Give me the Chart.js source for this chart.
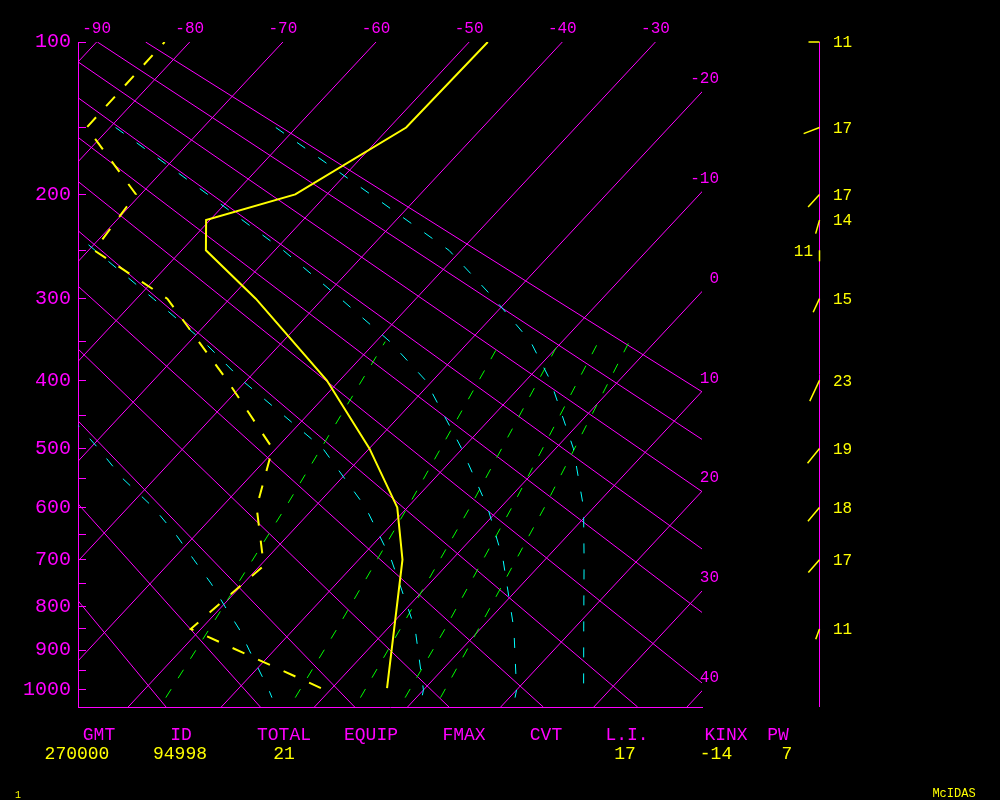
<!DOCTYPE html>
<html><head><meta charset="utf-8">
<style>html,body{margin:0;padding:0;background:#000;}canvas{display:block;}</style>
<script src="https://cdn.jsdelivr.net/npm/chart.js@4/dist/chart.umd.min.js"></script>
</head><body>
<canvas id="c" width="1000" height="800"></canvas>
<script>
// ---------------- data ----------------
const isotherms = [-90,-80,-70,-60,-50,-40,-30,-20,-10,0,10,20,30,40];
const topTempLabels = [-90,-80,-70,-60,-50,-40,-30];
const rightTempLabels = [-20,-10,0,10,20,30,40];
const pressureTicks = [100,150,200,250,300,350,400,450,500,550,600,650,700,750,800,850,900,950,1000];
const pressureLabels = [100,200,300,400,500,600,700,800,900,1000];
const dryAdiabatsK = [254,264,274,284,294,304,314,324,334,344,354,364];

const mixP  = [1020, 850, 600, 350];
const mix1T = [-16.9, -19.1, -23.1, -29.0];
const mix3T = [-3.0, -5.4, -10.0, -16.6];
const mix5T = [4.0, 1.4, -3.3, -10.3];
const mix7T = [8.8, 6.2, 1.2, -6.1];
const mix9T = [12.6, 9.8, 4.7, -2.8];

const moistB_P = [400, 500, 550, 600, 650, 700, 750, 800, 850, 900, 1000, 1020];
const moistB_T = [-62.4, -49.1, -43.4, -37.3, -32.2, -27.7, -23.4, -19.6, -15.9, -12.7, -6.6, -5.5];
const moistA_P = [200, 250, 300, 350, 400, 500, 600, 700, 850, 1000, 1020];
const moistA_T = [-82.0, -69.3, -58.2, -48.5, -40.5, -25.0, -14.5, -6.5, 3.0, 10.0, 10.6];
const moistD_P = [150, 200, 250, 300, 350, 400, 500, 600, 700, 850, 1000, 1020];
const moistD_T = [-79.4, -62.8, -49.1, -38.1, -28.5, -20.8, -10.1, -1.4, 5.5, 13.6, 20.0, 20.6];
const moistC_P = [150, 200, 250, 300, 350, 400, 500, 600, 700, 850, 1000, 1020];
const moistC_T = [-62.2, -45.3, -31.3, -21.6, -13.4, -7.4, 1.9, 8.9, 14.2, 21.1, 27.2, 28.0];

const tempP = [995, 700, 600, 500, 400, 300, 250, 222, 200, 150, 100];
const tempT = [5.9, -5.3, -11.1, -20.0, -31.4, -47.2, -57.4, -60.4, -53.4, -48.2, -48.0];
const dewP  = [995, 850, 712, 600, 500, 400, 300, 250, 200, 150, 100];
const dewT  = [-1.2, -21.1, -19.6, -26.2, -30.4, -42.1, -56.7, -69.4, -70.5, -82.5, -82.7];

const windP   = [100, 150, 200, 222, 250, 300, 400, 500, 600, 700, 850];
const windDir = [270, 249, 222, 196, 180, 205, 205, 219, 220, 221, 200];
const windSpd = [11, 17, 17, 14, 11, 15, 23, 19, 18, 17, 11];

const tableHeaders = ['GMT','ID','TOTAL','EQUIP','FMAX','CVT','L.I.','KINX','PW'];
const tableValues  = ['270000','94998','21','','','','17','-14','7'];

// ---------------- layout / style ----------------
const MAG='#ff00ff', YEL='#ffff00', CYA='#00ffff', GRN='#00ff00';
const FONT="'Liberation Mono', 'DejaVu Sans Mono', monospace";
const headerX = [99,181,284,371,464,546,627,726,778];
const valueX  = [77,180,284,371,464,546,625,716,787];
const WIND_X = 819.5, WIND_LABEL_X = 833, WIND_LABEL_LEFT_X = 813;
const windLabelLeft = [250];
const RIGHT_LABEL_X = 719, RIGHT_LABEL_RISE = 13;

// diagram coordinates: y = p^kappa, x = T skewed by pressure
const KAPPA = 0.286, SKEW = 18.66;
const XMIN = -92, XMAX = -25;
const P = p => Math.pow(p, KAPPA);
const PTOP = P(100), PBOT = P(1045);
const pt = (t, p) => ({x: t - SKEW * (P(p) - PTOP), y: P(p)});
const series = (ps, ts) => ps.map((p, i) => pt(ts[i], p));

const datasets = [];
function addLine(points, color, width, dash, order) {
  datasets.push({data: points, showLine: true, borderColor: color, borderWidth: width,
    borderDash: dash || [], pointRadius: 0, pointHoverRadius: 0, fill: false, tension: 0, order});
}
addLine(series(tempP, tempT), YEL, 2, null, 0);
addLine(series(dewP, dewT), YEL, 2, [13, 15], 0);
[[moistA_P, moistA_T],[moistB_P, moistB_T],[moistC_P, moistC_T],[moistD_P, moistD_T]]
  .forEach(([ps, ts]) => addLine(series(ps, ts), CYA, 1, [10, 16], 1));
[mix1T, mix3T, mix5T, mix7T, mix9T].forEach(ts => addLine(series(mixP, ts), GRN, 1, [10, 13], 1));
isotherms.forEach(t => addLine([pt(t, 100), pt(t, 1045)], MAG, 1, null, 2));
dryAdiabatsK.forEach(th => {
  const tAt = p => th * Math.pow(p / 1000, KAPPA) - 273.15;
  addLine([pt(tAt(100), 100), pt(tAt(1045), 1045)], MAG, 1, null, 2);
});

const overlay = {
  id: 'overlay',
  beforeDraw(chart) {
    const c = chart.ctx; c.save(); c.fillStyle = '#000'; c.fillRect(0, 0, chart.width, chart.height); c.restore();
  },
  afterDraw(chart) {
    const c = chart.ctx, ys = chart.scales.y, a = chart.chartArea;
    c.save();
    // isotherm labels where the isotherms leave the right edge
    c.fillStyle = MAG; c.font = '16px ' + FONT; c.textAlign = 'right'; c.textBaseline = 'middle';
    rightTempLabels.forEach(t => {
      const y = ys.getPixelForValue(PTOP + (t - XMAX) / SKEW);
      c.fillText(String(t), RIGHT_LABEL_X, y - RIGHT_LABEL_RISE);
    });
    // wind profile
    c.strokeStyle = MAG; c.lineWidth = 1;
    c.beginPath(); c.moveTo(WIND_X, a.top); c.lineTo(WIND_X, a.bottom); c.stroke();
    c.strokeStyle = YEL; c.fillStyle = YEL; c.lineWidth = 1.5;
    c.font = '16px ' + FONT;
    windP.forEach((p, i) => {
      const y = ys.getPixelForValue(P(p));
      const ang = windDir[i] * Math.PI / 180, L = windSpd[i];
      c.beginPath(); c.moveTo(WIND_X, y); c.lineTo(WIND_X + L * Math.sin(ang), y - L * Math.cos(ang)); c.stroke();
      if (windLabelLeft.includes(p)) { c.textAlign = 'right'; c.fillText(String(windSpd[i]), WIND_LABEL_LEFT_X, y + 1); }
      else { c.textAlign = 'left'; c.fillText(String(windSpd[i]), WIND_LABEL_X, y + 1); }
    });
    // station table
    c.font = '18px ' + FONT; c.textAlign = 'center';
    c.fillStyle = MAG;
    tableHeaders.forEach((h, i) => c.fillText(h, headerX[i], 735));
    c.fillStyle = YEL;
    tableValues.forEach((v, i) => { if (v) c.fillText(v, valueX[i], 754); });
    c.font = '12px ' + FONT;
    c.fillText('McIDAS', 954, 794);
    c.font = '10px ' + FONT;
    c.fillText('1', 18, 795);
    c.restore();
  }
};

new Chart(document.getElementById('c').getContext('2d'), {
  type: 'scatter',
  data: {datasets},
  options: {
    responsive: false, animation: false, devicePixelRatio: 1, events: [],
    layout: {padding: {left: 0, right: 298, top: 0, bottom: 93}},
    plugins: {legend: {display: false}, tooltip: {enabled: false}},
    scales: {
      x: {type: 'linear', position: 'bottom', min: XMIN, max: XMAX, bounds: 'data',
          ticks: {display: false}, grid: {display: false, drawTicks: false},
          border: {display: true, color: MAG, width: 1},
          afterFit: s => { s.height = 0; }},
      xt: {type: 'linear', position: 'top', min: XMIN, max: XMAX, bounds: 'data',
          afterBuildTicks: s => { s.ticks = topTempLabels.map(v => ({value: v})); },
          ticks: {color: MAG, font: {family: FONT, size: 16}, padding: 4, autoSkip: false, maxRotation: 0,
                  callback: v => String(v)},
          grid: {display: false, drawTicks: false}, border: {display: false},
          afterFit: s => { s.height = 42; }},
      y: {type: 'linear', position: 'left', reverse: true, min: PTOP, max: PBOT, bounds: 'data',
          afterBuildTicks: s => { s.ticks = pressureTicks.map(p => ({value: P(p)})); },
          ticks: {color: MAG, font: {family: FONT, size: 20}, padding: 15, autoSkip: false,
                  callback: v => { const p = Math.round(Math.pow(v, 1 / KAPPA)); return pressureLabels.includes(p) ? String(p) : ''; }},
          grid: {display: true, drawOnChartArea: false, drawTicks: true, tickLength: -8, color: MAG, lineWidth: 1},
          border: {display: true, color: MAG, width: 1},
          afterFit: s => { s.width = 78; }}
    }
  },
  plugins: [overlay]
});
</script>
</body></html>
